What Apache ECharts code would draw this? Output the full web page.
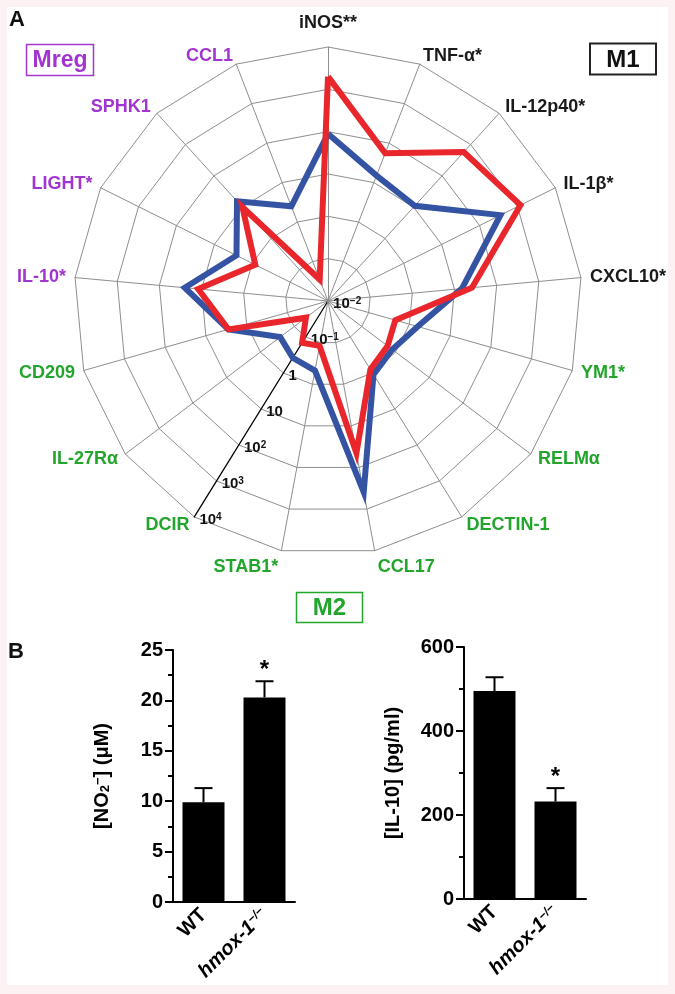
<!DOCTYPE html>
<html><head><meta charset="utf-8">
<script src="https://cdn.jsdelivr.net/npm/echarts@6/dist/echarts.min.js"></script>
<style>html,body{margin:0;padding:0;background:#fcf2f4}#c{width:675px;height:994px}</style>
</head><body><div id="c"></div>
<script>
// ---------- Panel A: radar (clockwise from top) ----------
const genes = ['iNOS**','TNF-α*','IL-12p40*','IL-1β*','CXCL10*','YM1*','RELMα','DECTIN-1','CCL17','STAB1*','DCIR','IL-27Rα','CD209','IL-10*','LIGHT*','SPHK1','CCL1'];
const geneGroup = ['M1','M1','M1','M1','M1','M2','M2','M2','M2','M2','M2','M2','M2','Mreg','Mreg','Mreg','Mreg'];
// relative expression (log scale 10^-2 .. 10^4)
const wtExpr = [89, 15, 11, 355, 15, 1.6, 0.8, 1.1, 390, 0.47, 0.38, 0.26, 2.8, 25, 2.6, 15.5, 2.5];
const koExpr = [2000, 55, 575, 1200, 26, 0.45, 0.58, 0.8, 45, 0.12, 0.145, 0.045, 2.8, 12, 0.83, 10, 0.035];
const radarTickLabels = ['10{s|−2}', '10{s|−1}', '1', '10', '10{s|2}', '10{s|3}', '10{s|4}'];
const labelledAxis = 'DCIR';

// ---------- Panel B: bars ----------
const barCats = ['WT', 'hmox-1'];
const no2Mean = [9.9, 20.3];
const no2Err = [1.4, 1.6];
const no2Sig = [0, 1];
const il10Mean = [495, 232];
const il10Err = [33, 32];
const il10Sig = [0, 1];

const FONT = "'Liberation Sans', Arial, Helvetica, sans-serif";
const groupColor = { M1: '#1a1a1a', M2: '#21a52b', Mreg: '#a234cf' };
const RED = '#e8262b', BLUE = '#3553a3';
const GRID = '#8e8e8e';

// ECharts radar runs counter-clockwise, so reverse order (keep first at top)
const order = genes.map((g, i) => (genes.length - i) % genes.length);
const logv = v => Math.log10(v);

const indicator = order.map(k => {
  const ind = { name: genes[k], min: -2, max: 4, color: groupColor[geneGroup[k]] };
  if (k === 0) ind.nameGap = 15;
  if (k === 8 || k === 9) ind.nameGap = 17;
  if (genes[k] === labelledAxis) {
    ind.axisLine = { show: true, lineStyle: { color: '#000', width: 1.3 } };
    ind.axisLabel = {
      show: true, margin: 6, color: '#111', fontSize: 15, fontWeight: 'bold', fontFamily: FONT,
      formatter: v => radarTickLabels[Math.round(v) + 2],
      rich: { s: { fontSize: 10, fontWeight: 'bold', verticalAlign: 'top', fontFamily: FONT, color: '#111' } }
    };
  }
  return ind;
});

function errRender(params, api) {
  const x = api.value(0), m = api.value(1), e = api.value(2), sig = api.value(3);
  const base = api.coord([x, m]);
  const top = api.coord([x, m + e]);
  const hw = 9;
  const ch = [
    { type: 'line', shape: { x1: top[0], y1: base[1], x2: top[0], y2: top[1] }, style: { stroke: '#000', lineWidth: 2 } },
    { type: 'line', shape: { x1: top[0] - hw, y1: top[1], x2: top[0] + hw, y2: top[1] }, style: { stroke: '#000', lineWidth: 2 } }
  ];
  if (sig) ch.push({ type: 'text', style: { text: '*', x: top[0], y: top[1] - 11, align: 'center', verticalAlign: 'middle', font: 'bold 24px ' + FONT, fill: '#000' } });
  return { type: 'group', children: ch };
}

const xLabel = {
  rotate: 45, margin: 10, color: '#000', fontSize: 20, fontWeight: 'bold', fontFamily: FONT,
  formatter: v => v === 'WT' ? 'WT' : '{i|' + v + '}{sup|−/−}',
  rich: {
    i: { fontStyle: 'italic', fontWeight: 'bold', fontSize: 20, fontFamily: FONT, color: '#000' },
    sup: { fontStyle: 'italic', fontSize: 12, fontFamily: FONT, color: '#000', verticalAlign: 'top' }
  }
};
function xAx(gi) {
  return {
    gridIndex: gi, type: 'category', data: barCats,
    axisLine: { lineStyle: { color: '#000', width: 2 } },
    axisTick: { alignWithLabel: true, length: 8, lineStyle: { color: '#000', width: 2 } },
    axisLabel: xLabel
  };
}
function yAx(gi, max, interval, name) {
  return {
    gridIndex: gi, type: 'value', min: 0, max: max, interval: interval,
    axisLine: { show: true, lineStyle: { color: '#000', width: 2 } },
    axisTick: { show: true, length: 8, lineStyle: { color: '#000', width: 2 } },
    minorTick: { show: true, splitNumber: 2, length: 5, lineStyle: { color: '#000', width: 2 } },
    splitLine: { show: false },
    axisLabel: { margin: 10, color: '#000', fontSize: 20, fontWeight: 'bold', fontFamily: FONT },
    name: name, nameLocation: 'middle', nameGap: 61,
    nameTextStyle: {
      color: '#000', fontSize: 20, fontWeight: 'bold', fontFamily: FONT,
      rich: {
        sub: { fontSize: 13, fontWeight: 'bold', verticalAlign: 'bottom', fontFamily: FONT, color: '#000' },
        sup: { fontSize: 13, fontWeight: 'bold', verticalAlign: 'top', fontFamily: FONT, color: '#000' }
      }
    }
  };
}

const chart = echarts.init(document.getElementById('c'), null, { renderer: 'canvas' });
chart.setOption({
  backgroundColor: '#fcf2f4',
  animation: false,
  textStyle: { fontFamily: FONT },
  graphic: [
    { type: 'rect', z: -100, shape: { x: 7, y: 7, width: 661, height: 978 }, style: { fill: '#ffffff' } },
    { type: 'text', style: { text: 'A', x: 9, y: 9, font: 'bold 22px ' + FONT, fill: '#111' } },
    { type: 'text', style: { text: 'B', x: 8, y: 641, font: 'bold 22px ' + FONT, fill: '#111' } },
    { type: 'rect', shape: { x: 26.5, y: 44.5, width: 67, height: 31 }, style: { fill: 'none', stroke: groupColor.Mreg, lineWidth: 1.5 } },
    { type: 'text', style: { text: 'Mreg', x: 60, y: 61, align: 'center', verticalAlign: 'middle', font: 'bold 23px ' + FONT, fill: groupColor.Mreg } },
    { type: 'rect', shape: { x: 590, y: 43.5, width: 66, height: 31 }, style: { fill: 'none', stroke: '#222', lineWidth: 2 } },
    { type: 'text', style: { text: 'M1', x: 623, y: 60, align: 'center', verticalAlign: 'middle', font: 'bold 24px ' + FONT, fill: '#111' } },
    { type: 'rect', shape: { x: 296.5, y: 592.5, width: 66, height: 30 }, style: { fill: 'none', stroke: groupColor.M2, lineWidth: 1.5 } },
    { type: 'text', style: { text: 'M2', x: 329.5, y: 608, align: 'center', verticalAlign: 'middle', font: 'bold 24px ' + FONT, fill: groupColor.M2 } }
  ],
  radar: {
    center: [328, 301], radius: 254, startAngle: 90, splitNumber: 6, shape: 'polygon',
    indicator: indicator,
    nameGap: 9,
    axisName: { fontSize: 18, fontWeight: 'bold', fontFamily: FONT },
    axisLine: { show: true, lineStyle: { color: GRID, width: 1 } },
    axisTick: { show: false },
    axisLabel: { show: false },
    splitLine: { lineStyle: { color: GRID, width: 1 } },
    splitArea: { show: false }
  },
  grid: [
    { left: 173, top: 650, width: 122, height: 252 },
    { left: 464, top: 647, width: 122, height: 252 }
  ],
  xAxis: [xAx(0), xAx(1)],
  yAxis: [
    yAx(0, 25, 5, '[NO{sub|2}{sup|−}] (μM)'),
    yAx(1, 600, 200, '[IL-10] (pg/ml)')
  ],
  series: [
    {
      type: 'radar', z: 3, symbol: 'none',
      data: [
        { name: 'WT', value: order.map(k => logv(wtExpr[k])), lineStyle: { color: BLUE, width: 6, join: 'miter' }, itemStyle: { color: BLUE } },
        { name: 'hmox-1-/-', value: order.map(k => logv(koExpr[k])), lineStyle: { color: RED, width: 6, join: 'miter' }, itemStyle: { color: RED } }
      ]
    },
    { type: 'bar', xAxisIndex: 0, yAxisIndex: 0, barWidth: 42, itemStyle: { color: '#000' }, data: no2Mean },
    { type: 'custom', xAxisIndex: 0, yAxisIndex: 0, renderItem: errRender, z: 5,
      data: no2Mean.map((m, i) => [i, m, no2Err[i], no2Sig[i]]) },
    { type: 'bar', xAxisIndex: 1, yAxisIndex: 1, barWidth: 42, itemStyle: { color: '#000' }, data: il10Mean },
    { type: 'custom', xAxisIndex: 1, yAxisIndex: 1, renderItem: errRender, z: 5,
      data: il10Mean.map((m, i) => [i, m, il10Err[i], il10Sig[i]]) }
  ]
});
</script>
</body></html>
